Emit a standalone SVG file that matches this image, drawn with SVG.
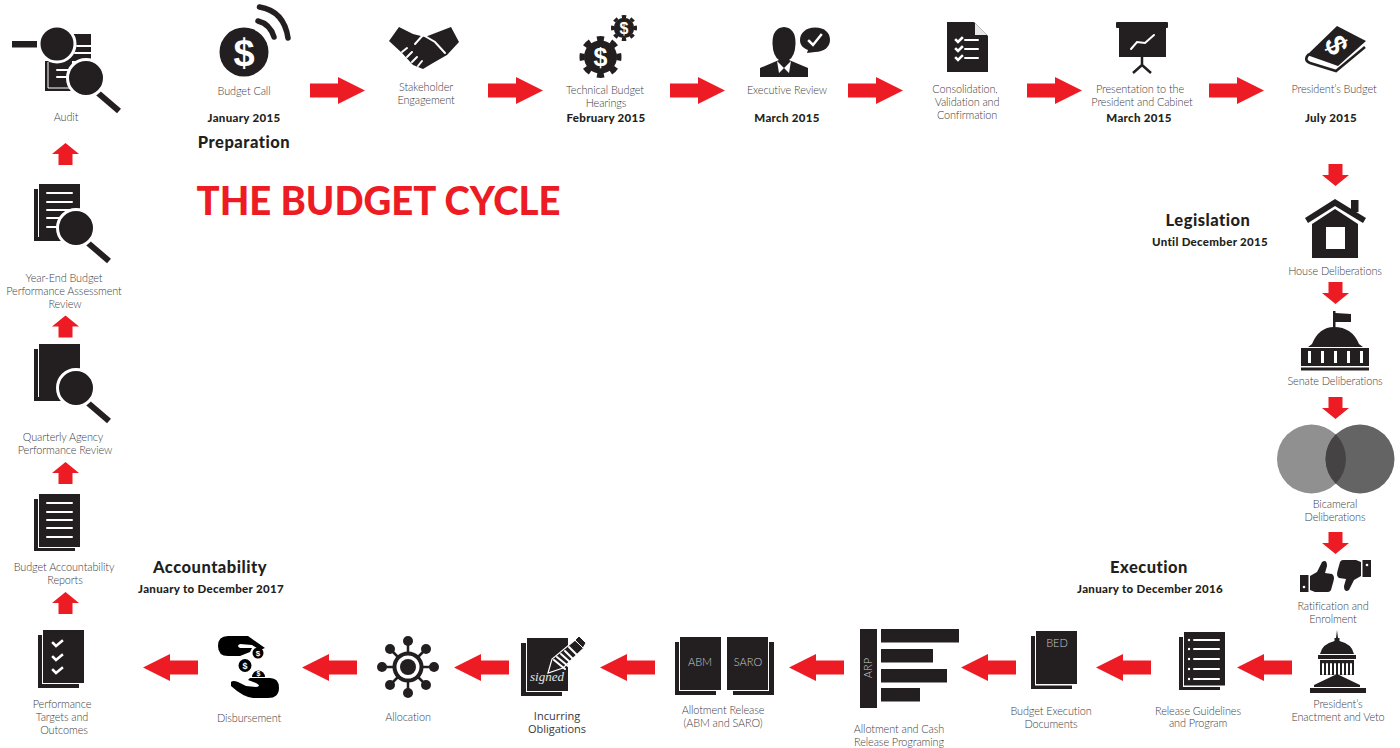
<svg xmlns="http://www.w3.org/2000/svg" xmlns:xlink="http://www.w3.org/1999/xlink" width="1400" height="748" viewBox="0 0 1400 748">
<style>
text{font-family:"Lato","Liberation Sans",sans-serif}
.l{font-size:10.900px;font-weight:300;fill:#414042;text-anchor:middle;letter-spacing:-.1px}
.d{font-size:11.500px;font-weight:900;fill:#231f20;text-anchor:middle;letter-spacing:.3px}
.h{font-size:16.500px;font-weight:900;fill:#231f20;text-anchor:middle;letter-spacing:.5px}
.i{font-size:11px;font-weight:400;fill:#3a3839;text-anchor:middle;font-family:"Open Sans","Liberation Sans",sans-serif}
.t{font-size:11px;font-weight:300;fill:#c9c9ca;text-anchor:middle}
.m{font-weight:700;fill:#fff;text-anchor:middle;font-family:"Liberation Sans",sans-serif}
.k{fill:#231f20}
.w{fill:#fff}
.wl{stroke:#fff;fill:none;stroke-width:2;stroke-linecap:round}
.ck{stroke:#fff;fill:none;stroke-width:2.500;stroke-linecap:square}
.arrow{fill:#ed1c24}
.hd{stroke:#231f20;stroke-width:6;fill:none}
.lens{fill:#231f20;stroke:#fff;stroke-width:3}
</style>
<defs>
<path id="ar" d="M0,-7H28V-13.500L55,0L28,13.500V7H0Z"/>
<path id="al" d="M0,0L27,-13.500V-7H55V7H27V13.500Z"/>
<path id="ad" d="M-7,0H7V11H13.500L0,22L-13.500,11H-7Z"/>
<path id="au" d="M0,0L13.500,11H7V22H-7V11H-13.500Z"/>
<g id="gear"><circle r="16.500" class="k"/><circle r="18.500" fill="none" stroke="#231f20" stroke-width="5" pathLength="80" stroke-dasharray="5 5" stroke-dashoffset="2.500"/></g>
<g id="mag"><path class="hd" d="M12,15L33,33"/><circle r="18.500" class="lens"/></g>
<g id="thumb"><rect x="1300" y="575" width="8.500" height="17" class="k"/><circle cx="1304" cy="587" r="1.300" class="w"/><path class="k" d="M1310,576L1317,572L1322,562Q1327,559 1327,566L1325,573L1332,574Q1335,576 1333.500,581L1331,590Q1330,592 1328,592H1315L1310,590Z"/></g>
</defs>
<rect width="1400" height="748" fill="#fff"/>

<g id="connectors" class="arrow">
<use href="#ar" x="310" y="90.500"/><use href="#ar" x="488" y="90.500"/><use href="#ar" x="670" y="90.500"/><use href="#ar" x="848" y="90.500"/><use href="#ar" x="1027" y="90.500"/><use href="#ar" x="1209" y="90.500"/>
<use href="#ad" x="1335.500" y="164"/><use href="#ad" x="1335.500" y="282"/><use href="#ad" x="1335.500" y="397"/><use href="#ad" x="1335.500" y="532"/>
<use href="#al" x="1237" y="667.500"/><use href="#al" x="1096" y="667.500"/><use href="#al" x="961" y="667.500"/><use href="#al" x="789" y="667.500"/><use href="#al" x="600" y="667.500"/><use href="#al" x="454" y="667.500"/><use href="#al" x="302" y="667.500"/><use href="#al" x="143" y="667.500"/>
<use href="#au" x="65.500" y="592"/><use href="#au" x="65.500" y="462"/><use href="#au" x="65.500" y="315.500"/><use href="#au" x="65.500" y="143"/>
</g>

<text x="378.500" y="215" font-size="40" font-weight="900" fill="#ed1c24" text-anchor="middle" textLength="364" lengthAdjust="spacingAndGlyphs">THE BUDGET CYCLE</text>
<text class="h" x="244" y="148">Preparation</text>
<text class="h" x="1208" y="226">Legislation</text>
<text class="d" x="1210" y="246">Until December 2015</text>
<text class="h" x="1149" y="573">Execution</text>
<text class="d" x="1150" y="593">January to December 2016</text>
<text class="h" x="210" y="573">Accountability</text>
<text class="d" x="211" y="593">January to December 2017</text>

<g id="budget-call">
<circle cx="244" cy="52" r="24.500" class="k"/><text class="m" x="244" y="65.500" font-size="38">$</text>
<path d="M259.500,7Q284,11 288,38" stroke="#231f20" stroke-width="5.500" fill="none" stroke-linecap="round"/>
<path d="M258,21Q270,24 274,37" stroke="#231f20" stroke-width="5.500" fill="none" stroke-linecap="round"/>
<text class="l" x="244" y="95">Budget Call</text><text class="d" x="244" y="122">January 2015</text>
</g>
<g id="stakeholder-engagement">
<path class="k" d="M389,41L399,27L413,34L425,37L438,32L451,27L459,42L447,55L433,63L423,69L413,65L402,53Z"/>
<path class="wl" stroke-width="1.500" d="M415,44L423,35L435,42L445,53M402,52l5,-4M407,57l5,-5M412,62l5,-5M418,66l4,-5"/>
<text class="l" x="426" y="91">Stakeholder</text><text class="l" x="426" y="104">Engagement</text>
</g>
<g id="technical-budget-hearings">
<use href="#gear" transform="translate(600.500,57)"/><use href="#gear" transform="translate(624,28) scale(.62)"/>
<text class="m" x="600.500" y="66" font-size="25">$</text><text class="m" x="624" y="34" font-size="16">$</text>
<text class="l" x="605" y="94">Technical Budget</text><text class="l" x="606" y="107">Hearings</text><text class="d" x="606" y="122">February 2015</text>
</g>
<g id="executive-review">
<path class="k" d="M784,27Q796,28 795.500,44Q795,56 789,60L808,68V77H760V68L779,60Q773,56 772.500,44Q772,28 784,27Z"/>
<path class="w" d="M777,61L784,68L779,73ZM791,61L784,68L789,73Z"/>
<path class="k" d="M815,27.500C825,27.500 830,33 830,40C830,47 824,52 815,52L807,53L808,50C803,48 800,45 800,40C800,33 806,27.500 815,27.500Z"/>
<path class="ck" d="M809,41L813,45L821,35" stroke-width="3"/>
<text class="l" x="787" y="94">Executive Review</text><text class="d" x="787" y="122">March 2015</text>
</g>
<g id="consolidation">
<path class="k" d="M947,22H974L988,36V72H947Z"/><path d="M975,23L987,35H975Z" fill="#e6e7e8"/>
<path class="ck" stroke-width="1.500" d="M956,40l2,2l4,-4M956,49l2,2l4,-4M956,58l2,2l4,-4"/>
<path class="wl" stroke-linecap="butt" d="M965,40H978M965,49H978M965,58H978"/>
<text class="l" x="965" y="93">Consolidation,</text><text class="l" x="967" y="106">Validation and</text><text class="l" x="967" y="119">Confirmation</text>
</g>
<g id="presentation">
<rect x="1116" y="22" width="52" height="6" rx="1" class="k"/><rect x="1119" y="27" width="47" height="30" class="k"/>
<path d="M1142,57V66M1142,65L1133,73M1142,65L1151,73" stroke="#231f20" stroke-width="2.500" fill="none"/>
<path class="wl" stroke-width="2.500" d="M1131,49L1137,42L1145,43L1154,35"/>
<text class="l" x="1140" y="93">Presentation to the</text><text class="l" x="1142" y="106">President and Cabinet</text><text class="d" x="1139" y="122">March 2015</text>
</g>
<g id="presidents-budget">
<path class="k" d="M1307,55L1337,26L1366,41L1338,66Z"/>
<path d="M1309,54Q1303,60 1310,63L1336,71L1365,47" stroke="#231f20" stroke-width="2.500" fill="none"/>
<text class="m" font-size="30" transform="translate(1336,45) rotate(65) translate(0,10)">$</text>
<text class="l" x="1334" y="93">President’s Budget</text><text class="d" x="1331" y="122">July 2015</text>
</g>
<g id="house-deliberations">
<rect x="1351" y="200" width="7.500" height="12" class="k"/>
<path class="k" d="M1335,199L1366,218L1363,223L1335,206L1308,223L1305,218Z"/>
<path class="k" d="M1312,224L1335,209L1358,224V258H1312Z"/>
<rect x="1326" y="227" width="19" height="22" class="w"/>
<text class="l" x="1335" y="275">House Deliberations</text>
</g>
<g id="senate-deliberations">
<path class="k" d="M1333,311H1335.500V313L1351,314V322H1335.500V327H1333Z"/>
<path class="k" d="M1334,327Q1352,327 1359,344L1363,347H1308L1312,344Q1319,327 1334,327Z"/>
<rect x="1301" y="348" width="68" height="18" class="k"/><rect x="1301" y="367.500" width="68" height="3" class="k"/>
<g class="w"><rect x="1308" y="351" width="3" height="12"/><rect x="1321" y="351" width="3" height="12"/><rect x="1334" y="351" width="3" height="12"/><rect x="1347" y="351" width="3" height="12"/><rect x="1360" y="351" width="3" height="12"/></g>
<text class="l" x="1335" y="385">Senate Deliberations</text>
</g>
<g id="bicameral-deliberations">
<clipPath id="cv"><circle cx="1311.500" cy="459" r="34.500"/></clipPath>
<circle cx="1311.500" cy="459" r="34.500" fill="#909091"/><circle cx="1360" cy="459" r="34.500" fill="#656465"/>
<circle cx="1360" cy="459" r="34.500" fill="#454344" clip-path="url(#cv)"/>
<text class="l" x="1335" y="508">Bicameral</text><text class="l" x="1335" y="521">Deliberations</text>
</g>
<g id="ratification">
<use href="#thumb"/><use href="#thumb" transform="translate(2671,1152) scale(-1,-1)"/>
<text class="l" x="1333" y="610">Ratification and</text><text class="l" x="1333" y="623">Enrolment</text>
</g>
<g id="presidents-enactment" transform="translate(0,-7)">
<path class="k" d="M1337,637L1338,645H1339.500V648Q1352,651 1354,661H1320Q1322,651 1334.500,648V645H1336Z"/>
<rect x="1318" y="662" width="38" height="4" class="k"/><rect x="1320" y="667" width="34" height="15" class="k"/>
<path class="wl" stroke-width="1.200" stroke-linecap="butt" d="M1323,671V681M1327,671V681M1331,671V681M1335,671V681M1339,671V681M1343,671V681M1347,671V681M1351,671V681"/>
<path class="k" d="M1337,681L1360,692V694H1314V692Z"/><rect x="1310" y="695" width="56" height="5" class="k"/>
<text class="l" x="1338" y="715">President’s</text><text class="l" x="1338" y="728">Enactment and Veto</text>
</g>
<g id="release-guidelines">
<path class="k" d="M1179,637H1183V687H1220V690H1179Z"/><rect x="1184" y="632" width="41" height="53.500" class="k"/>
<path class="wl" stroke-linecap="butt" d="M1194,640H1219M1194,649H1219M1194,659H1219M1194,669H1219M1194,679H1219"/>
<g class="w"><circle cx="1189" cy="640" r="1.200"/><circle cx="1189" cy="649" r="1.200"/><circle cx="1189" cy="659" r="1.200"/><circle cx="1189" cy="669" r="1.200"/><circle cx="1189" cy="679" r="1.200"/></g>
<text class="l" x="1198" y="715">Release Guidelines</text><text class="l" x="1198" y="727">and Program</text>
</g>
<g id="budget-execution-documents">
<path class="k" d="M1031,636H1035V685.500H1072V689H1031Z"/><rect x="1036" y="631" width="41" height="53" class="k"/>
<text class="t" x="1057" y="647">BED</text>
<text class="l" x="1051" y="715">Budget Execution</text><text class="l" x="1051" y="728">Documents</text>
</g>
<g id="allotment-cash-release">
<rect x="860" y="629" width="17" height="79" class="k"/>
<rect x="881" y="629" width="78" height="13.500" class="k"/><rect x="881" y="649" width="52" height="13.500" class="k"/><rect x="881" y="669" width="66" height="13.500" class="k"/><rect x="881" y="688" width="39" height="13.500" class="k"/>
<text class="t" font-size="12" transform="translate(872,668) rotate(-90)">ARP</text>
<text class="l" x="899" y="733">Allotment and Cash</text><text class="l" x="899" y="746">Release Programing</text>
</g>
<g id="allotment-release">
<path class="k" d="M675,642H679V691H716V695H675Z"/><rect x="680" y="637" width="41" height="53" class="k"/>
<rect x="727" y="637" width="41" height="53" class="k"/><path class="k" d="M769,642H774V695H733V691H769Z"/>
<text class="t" x="700" y="666">ABM</text><text class="t" x="748" y="666">SARO</text>
<text class="l" x="723" y="714">Allotment Release</text><text class="l" x="723" y="727">(ABM and SARO)</text>
</g>
<g id="incurring-obligations">
<path class="k" d="M521,643H526V692H562V696H521Z"/><rect x="527" y="638" width="41" height="53" class="k"/>
<path d="M548,673L552,659L575,640L584,648L563,668Z" fill="#231f20" stroke="#fff" stroke-width="1.200"/>
<path class="wl" stroke-width=".8" d="M554,660L565,669M557,657L568,666M561,654L571,663M565,651L574,660M569,647L578,656"/>
<path d="M575,640L579,636L586,643L583,648Z" fill="#231f20" stroke="#fff" stroke-width="1"/>
<text x="547" y="681" font-size="13" fill="#e6e7e8" text-anchor="middle" font-style="italic" style="font-family:'Liberation Serif',serif">signed</text>
<text class="i" x="557" y="720">Incurring</text><text class="i" x="557" y="733">Obligations</text>
</g>
<g id="allocation">
<path d="M408,667V641M408,667V693M408,667H382M408,667H434M408,667L390,649M408,667L426,649M408,667L390,685M408,667L426,685" stroke="#231f20" stroke-width="2.500"/>
<g class="k"><circle cx="408" cy="641" r="5"/><circle cx="408" cy="693" r="5"/><circle cx="382" cy="667" r="5"/><circle cx="434" cy="667" r="5"/><circle cx="390" cy="649" r="5"/><circle cx="426" cy="649" r="5"/><circle cx="390" cy="685" r="5"/><circle cx="426" cy="685" r="5"/></g>
<circle cx="408" cy="667" r="15.500" class="k"/><circle cx="408" cy="667" r="11.500" class="w"/><circle cx="408" cy="667" r="8" class="k"/>
<text class="l" x="408" y="721">Allocation</text>
</g>
<g id="disbursement" fill="#000">
<path d="M228,636L248,636L265,648L260,650L252,645L240,644Q236,646 240,648L252,648L250,652L240,656L228,656Q218,656 218,646Q218,636 228,636Z"/>
<path d="M231,682Q233,680 238,682L246,686L256,687Q262,686 256,683L248,680L250,678L270,678Q279,678 279,688Q279,698 268,698L253,698Q243,697 231,686Z"/>
<circle cx="258" cy="653" r="5.500"/><circle cx="245" cy="665.500" r="6.500"/><path d="M252,677A6.500,6.500 0 0 1 265,677Z"/>
<text class="m" x="258" y="656" font-size="8">$</text><text class="m" x="245" y="669" font-size="9">$</text><text class="m" x="258.500" y="676" font-size="7">$</text>
<text class="l" x="249" y="722">Disbursement</text>
</g>
<g id="performance-targets">
<path class="k" d="M38,635H42V684H79V688H38Z"/><rect x="43" y="630" width="41" height="53" class="k"/>
<path class="ck" d="M53,643l3,3l6,-5M53,657l3,3l6,-5M53,670l3,3l6,-5"/>
<text class="l" x="62" y="708">Performance</text><text class="l" x="62" y="721">Targets and</text><text class="l" x="64" y="734">Outcomes</text>
</g>
<g id="budget-accountability-reports">
<path class="k" d="M34,499H38V548H75V551H34Z"/><rect x="39" y="494" width="41" height="53" class="k"/>
<path class="wl" d="M47,503H72M47,512H72M47,520H72M47,528H72M47,537H72"/>
<text class="l" x="64" y="571">Budget Accountability</text><text class="l" x="65" y="584">Reports</text>
</g>
<g id="quarterly-review">
<path class="k" d="M34,349H38V397H75V401H34Z"/><rect x="39" y="344" width="41" height="53" class="k"/>
<use href="#mag" x="76" y="388"/>
<text class="l" x="63" y="441">Quarterly Agency</text><text class="l" x="65" y="454">Performance Review</text>
</g>
<g id="year-end-review">
<path class="k" d="M34,189H38V237H75V241H34Z"/><rect x="39" y="184" width="41" height="53" class="k"/>
<path class="wl" d="M47,193H72M47,202H72M47,210H72M47,218H72M47,227H72"/>
<use href="#mag" x="76" y="228"/>
<text class="l" x="64" y="282">Year-End Budget</text><text class="l" x="64" y="295">Performance Assessment</text><text class="l" x="65" y="308">Review</text>
</g>
<g id="audit">
<rect x="50" y="34" width="41" height="27" class="k"/>
<path class="k" d="M45,61H72V91H45Z"/><path d="M48,62V88H72" stroke="#fff" stroke-width="1" fill="none"/>
<path class="wl" stroke-width="3" stroke-linecap="butt" d="M77,46H91M75,53H91M57,70H72M57,77H70"/>
<rect x="12" y="41" width="25" height="6.500" class="k"/>
<circle cx="57" cy="44" r="18" class="lens"/>
<use href="#mag" x="86" y="78"/>
<text class="l" x="66" y="121">Audit</text>
</g>
</svg>
